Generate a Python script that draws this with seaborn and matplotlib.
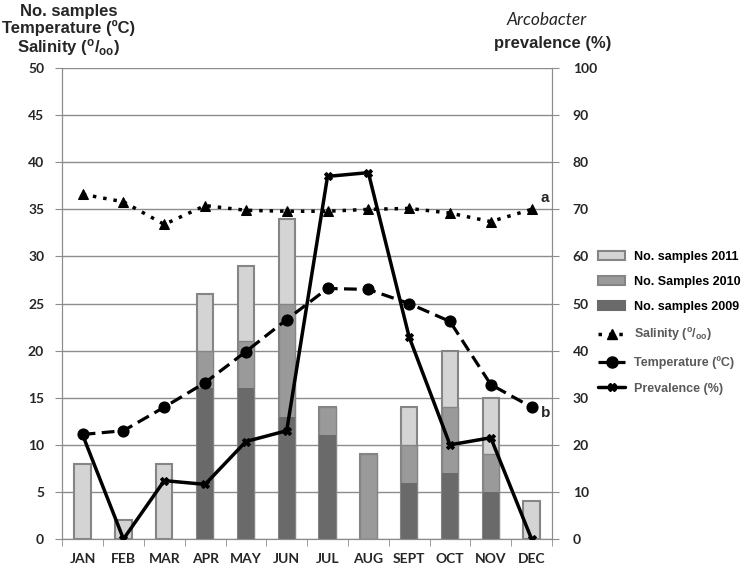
import numpy as np
import pandas as pd
import matplotlib
matplotlib.use('Agg')
from matplotlib import pyplot as plt
from matplotlib.patches import Patch
from matplotlib.lines import Line2D
from matplotlib.ticker import FixedLocator
import seaborn as sns

# data
months = ['JAN', 'FEB', 'MAR', 'APR', 'MAY', 'JUN', 'JUL', 'AUG', 'SEPT', 'OCT', 'NOV', 'DEC']
samples_2009 = [0, 0, 0, 16, 16, 13, 11, 0, 6, 7, 5, 0]
samples_2010 = [0, 0, 0, 4, 5, 12, 3, 9, 4, 7, 4, 0]
samples_2011 = [8, 2, 8, 6, 8, 9, 0, 0, 4, 6, 6, 4]
salinity = [36.6, 35.8, 33.4, 35.4, 34.9, 34.8, 34.8, 35.0, 35.1, 34.6, 33.7, 35.0]
temperature = [11.1, 11.5, 14.0, 16.6, 19.9, 23.3, 26.6, 26.5, 25.0, 23.1, 16.4, 14.0]
prevalence = [22.1, 0, 12.4, 11.6, 20.7, 23.0, 77.0, 77.8, 42.9, 20.0, 21.5, 0]

df = pd.DataFrame({'month': months, 'pos': np.arange(len(months)),
                   's2009': samples_2009, 's2010': samples_2010, 's2011': samples_2011,
                   'salinity': salinity, 'temperature': temperature, 'prevalence': prevalence})
df['upto2010'] = df['s2009'] + df['s2010']
df['total'] = df['upto2010'] + df['s2011']

sns.set_style('white')
plt.rcParams['font.family'] = ['Liberation Sans', 'DejaVu Sans']
plt.rcParams['mathtext.default'] = 'regular'

c2011, c2010, c2009 = '#d4d4d4', '#9a9a9a', '#6a6a6a'
edge = '#858585'
grid = '#8c8c8c'
tickfont = dict(family=['Lato', 'DejaVu Sans'], weight='bold', size=10)

fig = plt.figure(figsize=(7.5, 5.64), dpi=100)
ax = fig.add_axes([0.083, 0.0443, 0.653, 0.835])

# stacked bars drawn as layered totals
sns.barplot(data=df, x='month', y='total', color=c2011, edgecolor=edge, linewidth=1.5,
            width=0.4, saturation=1, ax=ax, zorder=2)
sns.barplot(data=df, x='month', y='upto2010', color=c2010, edgecolor=edge, linewidth=1.0,
            width=0.4, saturation=1, ax=ax, zorder=2)
sns.barplot(data=df, x='month', y='s2009', color=c2009, linewidth=0,
            width=0.4, saturation=1, ax=ax, zorder=2)

sns.lineplot(data=df, x='pos', y='salinity', color='black', linestyle=(0, (1, 2)), linewidth=2.5,
             marker='^', markersize=7, markeredgecolor='black', ax=ax, zorder=4)
sns.lineplot(data=df, x='pos', y='temperature', color='black', linestyle=(0, (4, 2)), linewidth=2.3,
             marker='o', markersize=8, markeredgecolor='black', ax=ax, zorder=4)

ax.text(11.22, 36.2, 'a', fontsize=11, fontweight='bold', va='center')
ax.text(11.22, 13.4, 'b', fontsize=11, fontweight='bold', va='center')

ax.set_ylim(0, 50)
ax.set_xlim(-0.5, 11.5)
ax.set_yticks(range(0, 51, 5))
ax.yaxis.grid(True, color=grid, linewidth=1)
ax.set_axisbelow(True)
ax.set_xlabel('')
ax.set_ylabel('')
ax.set_xticks(range(12))
ax.set_xticklabels(months)
ax.xaxis.set_minor_locator(FixedLocator(np.arange(-0.5, 12, 1)))
ax.tick_params(axis='x', which='major', length=0, pad=10)
ax.tick_params(axis='x', which='minor', length=5, color=grid, direction='out', bottom=True)
ax.tick_params(axis='y', length=5, color=grid, direction='out', left=True, pad=8)
for lab in ax.get_xticklabels() + ax.get_yticklabels():
    lab.set_fontproperties(tickfont)
ax.spines['top'].set_visible(False)
for side in ['left', 'bottom', 'right']:
    ax.spines[side].set_color(grid)

ax2 = ax.twinx()
sns.lineplot(data=df, x='pos', y='prevalence', color='black', linewidth=2.5,
             marker='X', markersize=6, markeredgecolor='black', ax=ax2, zorder=5)
ax2.set_ylim(0, 100)
ax2.set_yticks(range(0, 101, 10))
ax2.set_ylabel('')
ax2.tick_params(axis='y', length=5, color=grid, direction='out', right=True, pad=10)
for lab in ax2.get_yticklabels():
    lab.set_fontproperties(tickfont)
ax2.spines['top'].set_visible(False)
for side in ['left', 'bottom', 'right']:
    ax2.spines[side].set_color(grid)

# axis titles on top
fig.text(0.092, 0.993, 'No. samples\nTemperature (ºC)\nSalinity ($^{o}/_{oo}$)', ha='center', va='top',
         fontsize=12, fontweight='bold', linespacing=1.08)
fig.text(0.729, 0.965, 'Arcobacter', ha='center', va='center', fontsize=12.5, style='italic',
         family=['Lato', 'DejaVu Sans'])
fig.text(0.737, 0.923, 'prevalence (%)', ha='center', va='center', fontsize=12, fontweight='bold')

handles = [
    Patch(facecolor=c2011, edgecolor=edge, linewidth=1.5),
    Patch(facecolor=c2010, edgecolor=edge, linewidth=1.5),
    Patch(facecolor=c2009, edgecolor=c2009, linewidth=1.5),
    Line2D([], [], color='black', linestyle=(0, (1, 2)), linewidth=2.5, marker='^', markersize=7),
    Line2D([], [], color='black', linestyle=(0, (4, 2)), linewidth=2.3, marker='o', markersize=8),
    Line2D([], [], color='black', linewidth=2.5, marker='X', markersize=6),
]
labels = ['No. samples 2011', 'No. Samples 2010', 'No. samples 2009',
          'Salinity ($^{o}/_{oo}$)', 'Temperature (ºC)', 'Prevalence (%)']
leg = fig.legend(handles, labels, loc='upper left', bbox_to_anchor=(0.797, 0.555), frameon=False,
                 prop={'weight': 'bold', 'size': 9}, handlelength=2.2, labelspacing=1.05,
                 handletextpad=0.7, borderaxespad=0, borderpad=0)
for i, t in enumerate(leg.get_texts()):
    t.set_color('black' if i < 3 else '#5a5a5a')

fig.savefig('out.png', dpi=100)
